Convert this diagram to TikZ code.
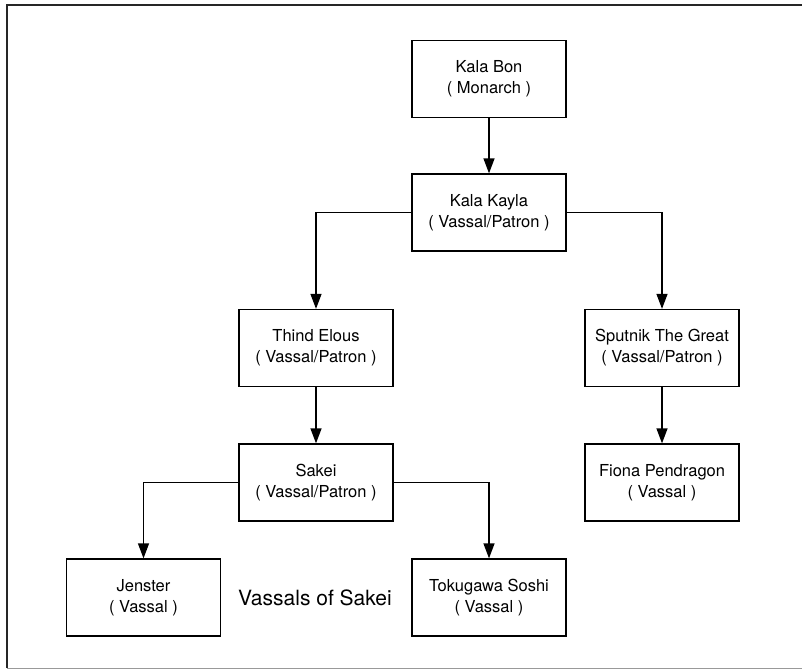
\documentclass[tikz,border=0pt]{standalone}
\usepackage{fontspec}
\setmainfont{TeX Gyre Heros}
\usetikzlibrary{arrows.meta}
\begin{document}
\begin{tikzpicture}[x=1pt,y=-1pt,
  person/.style={draw=black,line width=1.3pt,minimum width=154pt,minimum height=77pt,
    inner sep=0pt,align=center,font=\fontsize{16.5}{21}\selectfont},
  link/.style={draw=black,line width=1.3pt,-{Triangle[length=15pt,width=11pt]}}]
\useasboundingbox (0,0) rectangle (802,669);
\draw[line width=2pt,draw=black!85] (7,668) -- (7,5) -- (802,5);
\draw[line width=1pt,draw=black!40] (7,668) -- (802,668);
\node[person] (bon) at (489,79) {Kala Bon\\( Monarch )};
\node[person] (kayla) at (489,212.5) {Kala Kayla\\( Vassal/Patron )};
\node[person] (thind) at (316,348) {Thind Elous\\( Vassal/Patron )};
\node[person] (sputnik) at (662,348) {Sputnik The Great\\( Vassal/Patron )};
\node[person] (sakei) at (316,482.5) {Sakei\\( Vassal/Patron )};
\node[person] (fiona) at (662,482.5) {Fiona Pendragon\\( Vassal )};
\node[person] (jenster) at (143.5,597.5) {Jenster\\( Vassal )};
\node[person] (toku) at (489,597.5) {Tokugawa Soshi\\( Vassal )};
\node[font=\fontsize{21}{25}\selectfont] (label) at (315,598) {Vassals of Sakei};
\draw[link] (bon) -- (kayla);
\draw[link] (kayla.west) -| (thind.north);
\draw[link] (kayla.east) -| (sputnik.north);
\draw[link] (thind) -- (sakei);
\draw[link] (sputnik) -- (fiona);
\draw[link] (sakei.west) -| (jenster.north);
\draw[link] (sakei.east) -| (toku.north);
\end{tikzpicture}
\end{document}
